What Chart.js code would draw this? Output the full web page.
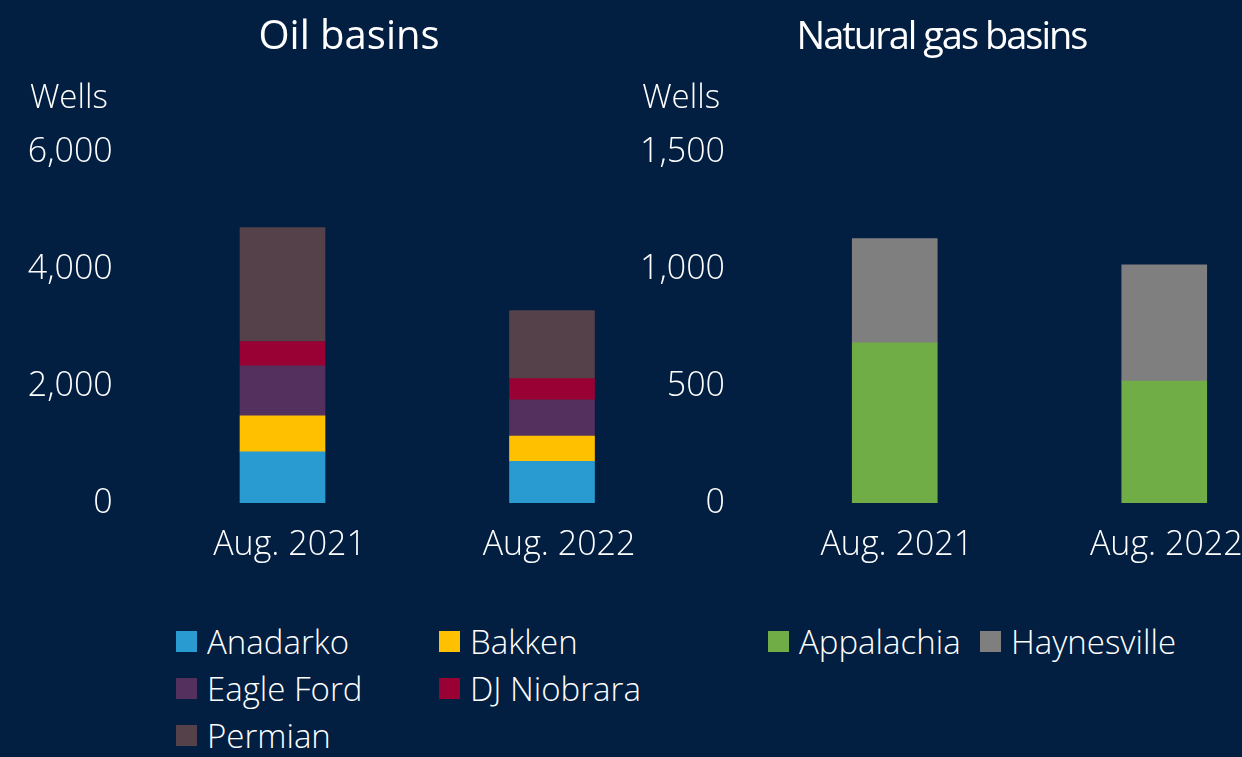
<!DOCTYPE html>
<html>
<head>
<meta charset="utf-8">
<script src="https://cdn.jsdelivr.net/npm/chart.js@4/dist/chart.umd.min.js"></script>
<style>
  html, body { margin:0; padding:0; width:1242px; height:757px; overflow:hidden; background:#021e40; }
  canvas { position:absolute; top:0; }
  #oil { left:0; }
  #gas { left:584px; }
  .legend { position:absolute; display:grid; font-family:"Open Sans", sans-serif; font-weight:300; font-size:33px; color:#ffffff; }
  .legend .item { display:flex; align-items:center; height:47px; white-space:nowrap; }
  .legend .sw { width:21px; height:21px; margin-right:10px; flex:none; }
  #oilLegend { left:176px; top:618px; grid-template-columns:263px 263px; }
  #gasLegend { left:768px; top:618px; grid-template-columns:212px 240px; }
</style>
</head>
<body>
<canvas id="oil" width="700" height="563"></canvas>
<canvas id="gas" width="715" height="563"></canvas>
<div id="oilLegend" class="legend"></div>
<div id="gasLegend" class="legend"></div>
<script>
// ---- Data ----
const categories = ['Aug. 2021', 'Aug. 2022'];
const anadarko   = [875, 713];
const bakken     = [617, 429];
const eagleFord  = [852, 623];
const djNiobrara = [417, 360];
const permian    = [1949, 1166];
const appalachia = [684, 521];
const haynesville = [446, 497];
const oilTicks = [0, 2000, 4000, 6000];
const gasTicks = [0, 500, 1000, 1500];

// ---- Styles ----
const FONT = '"Open Sans", sans-serif';
const WHITE = '#ffffff';

const oilDatasets = [
  { label: 'Anadarko',   data: anadarko,   backgroundColor: '#2a9bd0' },
  { label: 'Bakken',     data: bakken,     backgroundColor: '#ffc000' },
  { label: 'Eagle Ford', data: eagleFord,  backgroundColor: '#53305e' },
  { label: 'DJ Niobrara',data: djNiobrara, backgroundColor: '#990033' },
  { label: 'Permian',    data: permian,    backgroundColor: '#55414a' }
];
const gasDatasets = [
  { label: 'Appalachia',  data: appalachia,  backgroundColor: '#70ad47' },
  { label: 'Haynesville', data: haynesville, backgroundColor: '#7f7f7f' }
];

// Draws the chart heading and the "Wells" unit label
const headings = {
  id: 'headings',
  afterDraw(chart, args, opts) {
    const ctx = chart.ctx;
    const y = chart.scales.y;
    ctx.save();
    ctx.fillStyle = WHITE;
    ctx.textBaseline = 'alphabetic';
    ctx.font = '300 33px ' + FONT;
    ctx.textAlign = 'right';
    ctx.fillText('Wells', y.right - 40, 108);
    ctx.font = 'normal ' + opts.size + 'px ' + FONT;
    ctx.letterSpacing = opts.spacing + 'px';
    ctx.textAlign = 'center';
    ctx.fillText(opts.text, opts.cx, 49);
    ctx.restore();
  }
};

function makeChart(id, title, datasets, ticks, yWidth, padRight, titleOpts, labelOffset) {
  const max = ticks[ticks.length - 1];
  const step = ticks[1] - ticks[0];
  return new Chart(document.getElementById(id), {
    type: 'bar',
    data: {
      labels: categories,
      datasets: datasets.map(d => Object.assign({ barThickness: 85, borderWidth: 0 }, d))
    },
    options: {
      responsive: false,
      animation: false,
      devicePixelRatio: 1,
      layout: { padding: { left: 0, right: padRight, top: 152, bottom: 0 } },
      plugins: {
        legend: { display: false },
        tooltip: { enabled: false },
        title: { display: false },
        headings: Object.assign({ text: title }, titleOpts)
      },
      scales: {
        x: {
          stacked: true,
          grid: { display: false, drawTicks: false },
          border: { display: false },
          ticks: { color: WHITE, font: { family: FONT, size: 34, weight: 300 }, padding: 22, maxRotation: 0, labelOffset: labelOffset },
          afterFit: s => { s.height = 60; }
        },
        y: {
          stacked: true,
          min: 0, max: max,
          grid: { display: false, drawTicks: false },
          border: { display: false },
          ticks: { stepSize: step, color: WHITE, font: { family: FONT, size: 34, weight: 300 }, padding: 35 },
          afterFit: s => { s.width = yWidth; }
        }
      }
    },
    plugins: [headings]
  });
}

makeChart('oil', 'Oil basins', oilDatasets, oilTicks, 147.75, 13.25, { size: 40, spacing: 0, cx: 349 }, 7);
makeChart('gas', 'Natural gas basins', gasDatasets, gasTicks, 176, 0, { size: 38, spacing: -2, cx: 357.5 }, 2);

function buildLegend(elId, datasets) {
  const el = document.getElementById(elId);
  datasets.forEach(d => {
    const item = document.createElement('div');
    item.className = 'item';
    const sw = document.createElement('span');
    sw.className = 'sw';
    sw.style.background = d.backgroundColor;
    const tx = document.createElement('span');
    tx.textContent = d.label;
    item.appendChild(sw);
    item.appendChild(tx);
    el.appendChild(item);
  });
}
buildLegend('oilLegend', oilDatasets);
buildLegend('gasLegend', gasDatasets);
</script>
</body>
</html>
